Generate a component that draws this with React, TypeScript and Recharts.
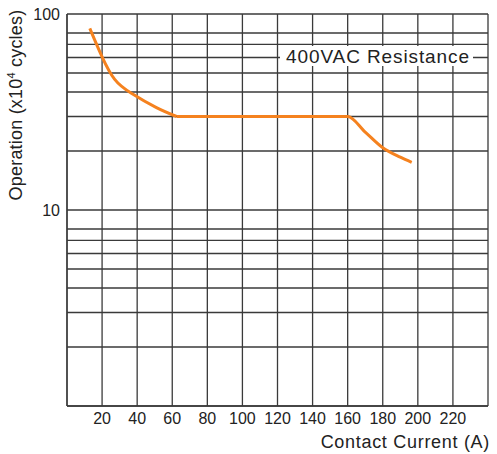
import React from 'react';
import { LineChart, Line, XAxis, YAxis, CartesianGrid } from 'recharts';

// contact current (A) vs operation life (x10^4 cycles)
// falling part at low current
const lowCurrents = [13, 20, 27.2, 36.7, 51, 62.5];
const lowCycles = [84.5, 60.5, 46.4, 39.4, 33.3, 30];
// flat part and the drop above 160 A
const highCurrents = [62.5, 100, 160, 170, 180, 190, 196.5];
const highCycles = [30, 30, 30, 25, 20.8, 18.6, 17.5];

const xTicks = [0, 20, 40, 60, 80, 100, 120, 140, 160, 180, 200, 220, 240];
const yTicks = [1, 2, 3, 4, 5, 6, 7, 8, 9, 10, 20, 30, 40, 50, 60, 70, 80, 90, 100];
const yLabelled = [10, 100];

const lowData = lowCurrents.map((c, i) => ({ current: c, ops: lowCycles[i] }));
const highData = highCurrents.map((c, i) => ({ current: c, ops: highCycles[i] }));

const FONT = '"Liberation Sans", Arial, sans-serif';

export default function App() {
  return (
    <div style={{ position: 'absolute', left: 0, top: 0, width: 497, height: 454, background: '#fff' }}>
      <LineChart width={497} height={454} margin={{ top: 14, right: 9, bottom: 0, left: 0 }}>
        <CartesianGrid stroke="#3a3a3a" strokeWidth={1.3} />
        <XAxis
          dataKey="current"
          type="number"
          domain={[0, 240]}
          ticks={xTicks}
          height={48}
          tickSize={0}
          tickMargin={7}
          axisLine={{ stroke: '#3a3a3a', strokeWidth: 1.3 }}
          tickFormatter={(v: number) => (v === 0 || v === 240 ? '' : String(v))}
          tick={{ fill: '#222', fontSize: 16, fontFamily: FONT }}
          allowDuplicatedCategory={false}
        />
        <YAxis
          type="number"
          scale="log"
          domain={[1, 100]}
          ticks={yTicks}
          allowDataOverflow
          width={67}
          tickSize={0}
          tickMargin={7}
          axisLine={{ stroke: '#3a3a3a', strokeWidth: 1.3 }}
          tickFormatter={(v: number) => (yLabelled.includes(v) ? String(v) : '')}
          tick={{ fill: '#222', fontSize: 16, fontFamily: FONT }}
        />
        <Line
          data={lowData}
          dataKey="ops"
          type="natural"
          stroke="#f5821f"
          strokeWidth={3}
          dot={false}
          isAnimationActive={false}
        />
        <Line
          data={highData}
          dataKey="ops"
          type="monotone"
          stroke="#f5821f"
          strokeWidth={3}
          dot={false}
          isAnimationActive={false}
        />
      </LineChart>
      <svg width={497} height={454} style={{ position: 'absolute', left: 0, top: 0, pointerEvents: 'none' }}>
        <rect x={280} y={46} width={193} height={20} fill="#fff" />
        <text x={286} y={63} fontSize={19} letterSpacing={0.9} fill="#222" fontFamily={FONT}>
          400VAC Resistance
        </text>
        <text
          transform="translate(22,105) rotate(-90)"
          textAnchor="middle"
          fontSize={18}
          letterSpacing={0.2}
          fill="#222"
          fontFamily={FONT}
        >
          Operation (x10<tspan fontSize={11} dy={-7}>4</tspan>
          <tspan dy={7}> cycles)</tspan>
        </text>
        <text x={490} y={448} textAnchor="end" fontSize={18} letterSpacing={0.7} fill="#222" fontFamily={FONT}>
          Contact Current (A)
        </text>
      </svg>
    </div>
  );
}
